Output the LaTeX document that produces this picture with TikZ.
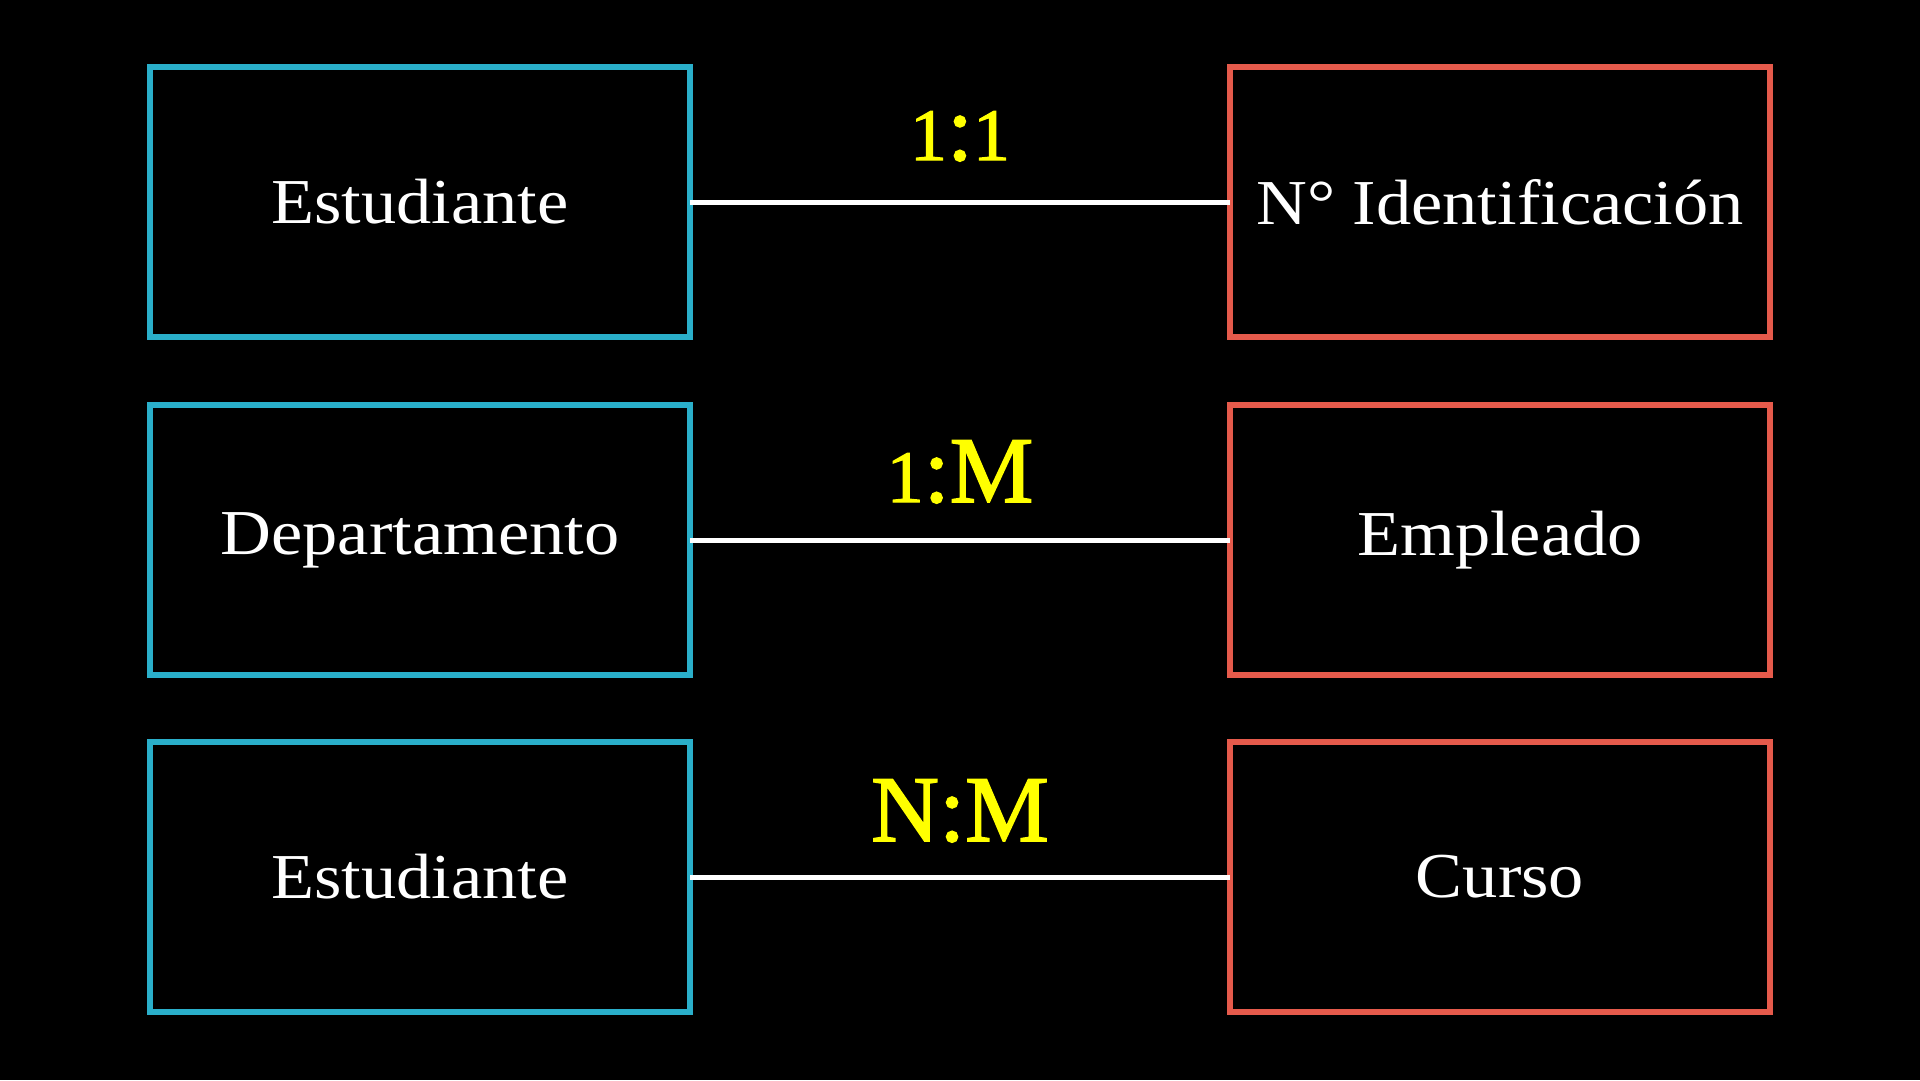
\documentclass[tikz,border=0pt]{standalone}
\usepackage{fontspec}
\setmainfont{Liberation Serif}[FakeStretch=1.1]
\newfontfamily\labfont{Liberation Serif}[FakeBold=1.6]
\definecolor{boxblue}{HTML}{2AAFCA}
\definecolor{boxred}{HTML}{E55A4B}
\definecolor{labyellow}{HTML}{FFFF00}
\newcommand\dgt[1]{{\fontsize{74}{80}\selectfont #1}}
\tikzset{
  entbox/.style={draw, line width=5.5pt, minimum width=540pt, minimum height=270pt,
    inner sep=0pt, outer sep=0pt, text=white, font=\fontsize{64}{70}\selectfont},
  leftbox/.style={entbox, draw=boxblue},
  rightbox/.style={entbox, draw=boxred},
  conn/.style={draw=white, line width=5pt},
  card/.style={text=labyellow, anchor=base, inner sep=0pt, font=\labfont\fontsize{94}{100}\selectfont}
}
\begin{document}
\begin{tikzpicture}[x=1pt,y=-1pt]
\fill[black] (0,0) rectangle (1920,1080);
\useasboundingbox (0,0) rectangle (1920,1080);
\node[leftbox]  (a1) at (420,202) {Estudiante};
\node[rightbox] (b1) at (1500,202) {N° Identificación};
\node[leftbox]  (a2) at (420,540) {Departamento};
\node[rightbox] (b2) at (1500,540) {Empleado};
\node[leftbox]  (a3) at (420,877) {Estudiante};
\node[rightbox] (b3) at (1500,877) {Curso};
\draw[conn] (a1.east) -- (b1.west);
\draw[conn] (a2.east) -- (b2.west);
\draw[conn] (a3.east) -- (b3.west);
\node[card] (c1) at (960,160) {\dgt{1}:\dgt{1}};
\node[card] (c2) at (960,502) {\dgt{1}:M};
\node[card] (c3) at (960,841) {N:M};
\end{tikzpicture}
\end{document}
